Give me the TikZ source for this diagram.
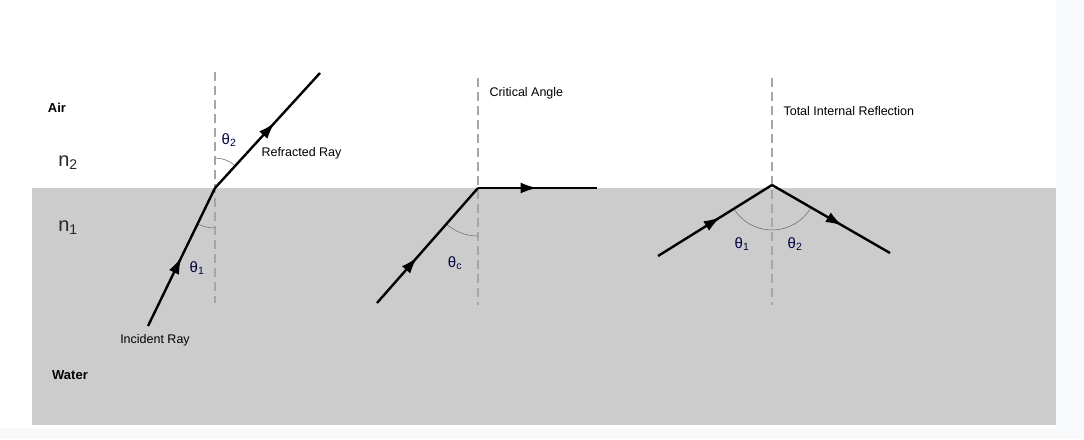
\documentclass[tikz,border=0pt]{standalone}
\usepackage{fontspec}
\setmainfont{Liberation Sans}
\usetikzlibrary{decorations.markings,arrows.meta}
\begin{document}
\begin{tikzpicture}[x=1pt,y=-1pt,
  ray/.style={line width=2.4pt},
  midarrow/.style={postaction={decorate},decoration={markings,mark=at position #1 with {\arrow{Latex[length=17pt,width=11pt]}}}},
  normal/.style={draw=gray!70,line width=2pt,dash pattern=on 9pt off 5pt},
  arcs/.style={draw=gray!80!black,line width=0.5pt},
  lbl/.style={font=\fontsize{12.5}{14}\selectfont},
  bold/.style={font=\bfseries\fontsize{13}{15}\selectfont},
  big/.style={font=\fontsize{20}{22}\selectfont,text=black!85},
  greek/.style={font=\fontsize{15}{17}\selectfont,text=black!75!blue}]
\useasboundingbox (0,0) rectangle (1084,439);
\fill[fill={rgb,255:red,248;green,249;blue,251}] (0,0) rectangle (1084,439);
\fill[white] (0,0) rectangle (1056,428);
\fill[gray!40] (32,188) rectangle (1056,425);
% panel 1
\coordinate (p1) at (215,188);
\coordinate (a1) at (148,326);
\coordinate (b1) at (320,73);
\draw[normal] (215,72) -- (215,303);
\draw[arcs] (215,228) arc[start angle=90,end angle=116,radius=40];
\draw[arcs] (215,158) arc[start angle=-90,end angle=-48,radius=30];
\draw[ray,midarrow=0.5] (a1) -- (p1);
\draw[ray,midarrow=0.57] (p1) -- (b1);
\node[bold] (air) at (57,108) {Air};
\node[big] (n2) at (68,163) {n\textsubscript{2}};
\node[big] (n1) at (68,228) {n\textsubscript{1}};
\node[bold] (water) at (70,375) {Water};
\node[lbl] (inc) at (155,340) {Incident Ray};
\node[lbl,anchor=west] (refr) at (258,153) {Refracted Ray};
\node[greek] (t2) at (229,140) {θ\textsubscript{2}};
\node[greek] (t1) at (197,268) {θ\textsubscript{1}};
% panel 2
\coordinate (p2) at (478,188);
\coordinate (a2) at (377,303);
\coordinate (b2) at (597,188);
\draw[normal] (478,78) -- (478,305);
\draw[arcs] (478,236) arc[start angle=90,end angle=131,radius=48];
\draw[ray,midarrow=0.4] (a2) -- (p2);
\draw[ray,midarrow=0.5] (p2) -- (b2);
\node[greek] (tc) at (455,263) {θ\textsubscript{c}};
\node[lbl,anchor=west] (crit) at (486,93) {Critical Angle};
% panel 3
\coordinate (p3) at (772,185);
\coordinate (a3) at (658,256);
\coordinate (b3) at (890,253);
\draw[normal] (772,78) -- (772,305);
\draw[arcs] (772,230) arc[start angle=90,end angle=148,radius=45];
\draw[arcs] (772,230) arc[start angle=90,end angle=30,radius=45];
\draw[ray,midarrow=0.55] (a3) -- (p3);
\draw[ray,midarrow=0.6] (p3) -- (b3);
\node[greek] (t31) at (742,244) {θ\textsubscript{1}};
\node[greek] (t32) at (795,244) {θ\textsubscript{2}};
\node[lbl,anchor=west] (tir) at (780,111) {Total Internal Reflection};
\end{tikzpicture}
\end{document}
